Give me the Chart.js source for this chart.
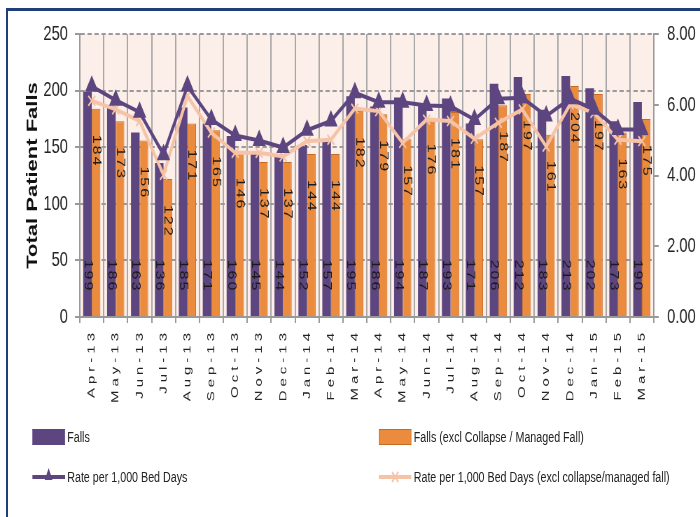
<!DOCTYPE html>
<html>
<head>
<meta charset="utf-8">
<script src="https://cdn.jsdelivr.net/npm/chart.js@4.4.1/dist/chart.umd.min.js"></script>
<style>
  html, body { margin: 0; padding: 0; background: #fff; }
  #frame { position: absolute; left: 0; top: 0; width: 700px; height: 517px; overflow: hidden; background: #fff; }
  #edge { position: absolute; left: 6px; top: 8px; width: 720px; height: 540px; border-top: 3px solid #1f3f7a; border-left: 2px solid #1f3f7a; }
  /* the reference is squeezed sideways, so draw wide and compress */
  #wide { position: absolute; left: 0; top: 0; width: 1000px; height: 517px; transform: scaleX(0.7); transform-origin: 0 0; }
  #chart { position: absolute; left: 0; top: 0; }
  .item { position: absolute; height: 20px; display: flex; align-items: center; font: 15.3px "Liberation Sans", Arial, sans-serif; color: #222; white-space: nowrap; }
  .item svg { margin-right: 3px; }
</style>
</head>
<body>
<div id="frame">
  <div id="edge"></div>
  <div id="wide">
    <canvas id="chart" width="1000" height="517"></canvas>
    <div id="legend"></div>
  </div>
</div>
<script>
const months = ['Apr-13','May-13','Jun-13','Jul-13','Aug-13','Sep-13','Oct-13','Nov-13','Dec-13','Jan-14','Feb-14','Mar-14',
                'Apr-14','May-14','Jun-14','Jul-14','Aug-14','Sep-14','Oct-14','Nov-14','Dec-14','Jan-15','Feb-15','Mar-15'];
const falls     = [199,186,163,136,185,171,160,145,144,152,157,195,186,194,187,193,171,206,212,183,213,202,173,190];
const fallsExcl = [184,173,156,122,171,165,146,137,137,144,144,182,179,157,176,181,157,187,197,161,204,197,163,175];
const rate      = [6.52,6.13,5.79,4.59,6.53,5.58,5.13,4.99,4.79,5.28,5.54,6.34,6.07,6.07,5.98,5.96,5.58,6.17,6.20,5.68,6.17,5.87,5.30,5.30];
const rateExcl  = [6.11,5.87,5.54,4.02,6.25,5.21,4.64,4.64,4.54,4.97,5.01,5.89,5.82,4.92,5.58,5.54,5.04,5.49,5.87,4.82,6.01,5.77,5.01,4.97];

const purple = '#5d4680';
const orange = '#eb8b3d';
const peach = '#f6c3a7';
const font = 'Liberation Sans';

// pink plot background
const plotBg = {
  id: 'plotBg',
  beforeDraw(chart) {
    const a = chart.chartArea, c = chart.ctx;
    c.save();
    c.fillStyle = '#fceee8';
    c.fillRect(a.left, a.top, a.right - a.left, a.bottom - a.top);
    c.restore();
  }
};

// wide-spaced month labels
const spacedTicks = {
  id: 'spacedTicks',
  beforeDraw(chart) {
    const sc = chart.scales.x;
    if (sc._spaced) return;
    const orig = sc.drawLabels;
    sc.drawLabels = function (area) {
      this.ctx.save();
      this.ctx.letterSpacing = '4px';
      orig.call(this, area);
      this.ctx.restore();
    };
    sc._spaced = true;
  }
};

// rotated value labels inside the bars
const barLabels = {
  id: 'barLabels',
  afterDatasetDraw(chart, args) {
    const meta = args.meta;
    if (meta.type !== 'bar') return;
    const c = chart.ctx;
    const values = chart.data.datasets[args.index].data;
    const atBase = args.index === 2;
    c.save();
    c.font = '16px "' + font + '"';
    c.letterSpacing = '2px';
    c.fillStyle = '#1a1a1a';
    c.textBaseline = 'middle';
    meta.data.forEach((bar, i) => {
      c.save();
      if (atBase) {
        c.translate(bar.x, bar.base - 40);
        c.textAlign = 'center';
      } else {
        c.translate(bar.x, bar.y + 26);
        c.textAlign = 'left';
      }
      c.rotate(Math.PI / 2);
      c.fillText(String(values[i]), 0, 0);
      c.restore();
    });
    c.restore();
  }
};

const chart = new Chart(document.getElementById('chart'), {
  type: 'bar',
  data: {
    labels: months,
    datasets: [
      {
        type: 'line', label: 'Rate per 1,000 Bed Days', data: rate, yAxisID: 'y2',
        borderColor: purple, backgroundColor: purple, borderWidth: 4,
        pointStyle: 'triangle', pointRadius: 7, pointBackgroundColor: purple, pointBorderColor: purple,
        order: 1
      },
      {
        type: 'line', label: 'Rate per 1,000 Bed Days (excl collapse/managed fall)', data: rateExcl, yAxisID: 'y2',
        borderColor: peach, backgroundColor: peach, borderWidth: 4,
        pointStyle: 'crossRot', pointRadius: 7, pointBorderWidth: 2, pointBorderColor: peach,
        order: 2
      },
      { label: 'Falls', data: falls, yAxisID: 'y', backgroundColor: purple, order: 3 },
      {
        label: 'Falls (excl Collapse / Managed Fall)', data: fallsExcl, yAxisID: 'y',
        backgroundColor: orange, borderColor: '#c76a22', borderWidth: 1, order: 3
      }
    ]
  },
  options: {
    responsive: false,
    animation: false,
    categoryPercentage: 0.72,
    barPercentage: 1.0,
    layout: { padding: { top: 34, bottom: 100, left: 0, right: 0 } },
    plugins: { legend: { display: false }, tooltip: { enabled: false } },
    scales: {
      x: {
        afterFit(s) { s.height = 100; },
        grid: { color: '#a8a8a8', lineWidth: 2, tickLength: 6, tickColor: '#999' },
        border: { color: '#999', width: 2 },
        ticks: {
          autoSkip: false, minRotation: 90, maxRotation: 90, padding: 6,
          color: '#222', font: { family: font, size: 15 }
        }
      },
      y: {
        position: 'left', min: 0, max: 250,
        afterFit(s) { s.width = 114; },
        ticks: { stepSize: 50, padding: 10, color: '#222', font: { family: font, size: 21 } },
        grid: { color: '#9a9a9a', lineWidth: 2, tickLength: 7, tickColor: '#999', tickBorderDash: [] },
        border: { color: '#999', width: 2, dash: [6, 4] },
        title: {
          display: true, text: 'Total Patient Falls', color: '#111',
          font: { family: font, size: 22, weight: 'bold' },
          padding: { top: 34, bottom: 0 }
        }
      },
      y2: {
        position: 'right', min: 0, max: 8,
        afterFit(s) { s.width = 66; },
        ticks: {
          stepSize: 2, padding: 12, color: '#222', font: { family: font, size: 21 },
          callback: v => v.toFixed(2)
        },
        grid: { drawOnChartArea: false, tickLength: 7, color: '#999', lineWidth: 2 },
        border: { color: '#999', width: 2 }
      }
    }
  },
  plugins: [plotBg, spacedTicks, barLabels]
});
chart.draw();

// legend in two columns, built from the datasets
function marker(ds) {
  if (ds.type !== 'line') {
    return '<svg width="47" height="16"><rect x="0.5" y="0.5" width="46" height="15" fill="' + ds.backgroundColor +
      '" stroke="' + (ds.borderColor || ds.backgroundColor) + '"/></svg>';
  }
  let m = '<line x1="0" y1="10" x2="47" y2="10" stroke="' + ds.borderColor + '" stroke-width="4"/>';
  if (ds.pointStyle === 'triangle') {
    m += '<polygon points="23.5,1 29,13 18,13" fill="' + ds.borderColor + '"/>';
  } else {
    m += '<line x1="19" y1="5" x2="28" y2="15" stroke="' + ds.borderColor + '" stroke-width="2"/>' +
         '<line x1="28" y1="5" x2="19" y2="15" stroke="' + ds.borderColor + '" stroke-width="2"/>';
  }
  return '<svg width="47" height="20">' + m + '</svg>';
}
const ds = chart.data.datasets;
const slots = [
  { d: ds[2], left: 46, top: 427 },
  { d: ds[3], left: 541, top: 427 },
  { d: ds[0], left: 46, top: 467 },
  { d: ds[1], left: 541, top: 467 }
];
const legend = document.getElementById('legend');
slots.forEach(s => {
  const el = document.createElement('div');
  el.className = 'item';
  el.style.left = s.left + 'px';
  el.style.top = s.top + 'px';
  el.innerHTML = marker(s.d) + '<span>' + s.d.label + '</span>';
  legend.appendChild(el);
});
</script>
</body>
</html>
